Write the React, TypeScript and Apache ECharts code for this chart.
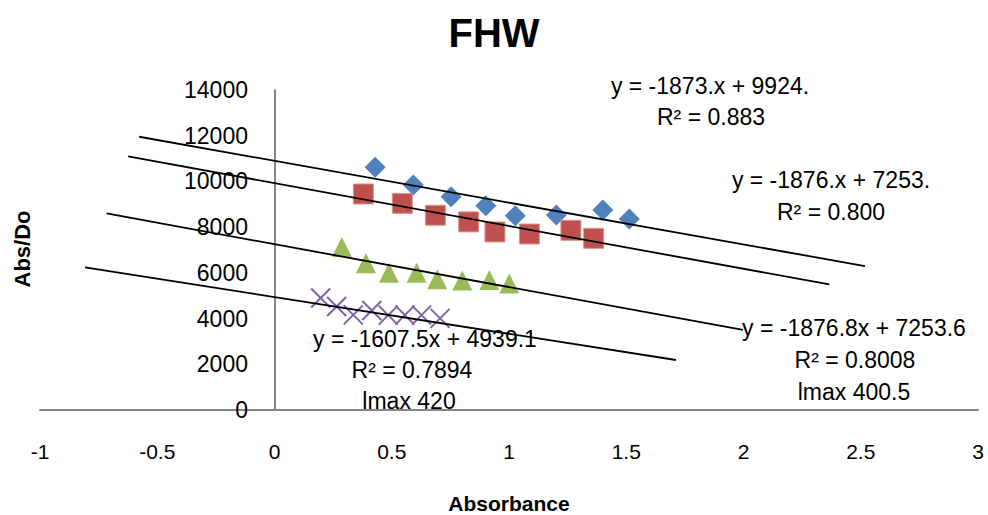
import React, { useEffect, useRef } from "react";
import * as echarts from "echarts";

const TITLE = "FHW";
const X_NAME = "Absorbance";
const Y_NAME = "Abs/Do";

const X_MIN = -1;
const X_MAX = 3;
const X_STEP = 0.5;
const Y_MIN = 0;
const Y_MAX = 14000;
const Y_STEP = 2000;

const BLUE_X = [0.429, 0.592, 0.753, 0.901, 1.027, 1.202, 1.4, 1.513];
const BLUE_Y = [10620, 9840, 9330, 8940, 8500, 8530, 8750, 8360];
const RED_X = [0.379, 0.545, 0.686, 0.828, 0.94, 1.087, 1.264, 1.361];
const RED_Y = [9450, 9040, 8520, 8230, 7790, 7700, 7860, 7510];
const GREEN_X = [0.287, 0.39, 0.488, 0.606, 0.694, 0.801, 0.916, 1.001];
const GREEN_Y = [7130, 6420, 6010, 6010, 5720, 5670, 5690, 5530];
const PURPLE_X = [0.197, 0.265, 0.336, 0.415, 0.485, 0.556, 0.627, 0.706];
const PURPLE_Y = [4900, 4530, 4160, 4350, 4150, 4150, 4150, 4010];

const TREND_SLOPE = [-1828, -1873, -1876.8, -1607.5];
const TREND_INTERCEPT = [10900, 9924, 7253.6, 4939.1];
const TREND_X_START = [-0.577, -0.624, -0.716, -0.808];
const TREND_X_END = [2.518, 2.366, 1.998, 1.712];

const LABEL_TEXTS = [
  "y = -1873.x + 9924.",
  "R² = 0.883",
  "y = -1876.x + 7253.",
  "R² = 0.800",
  "y = -1876.8x + 7253.6",
  "R² = 0.8008",
  "lmax 400.5",
  "y = -1607.5x + 4939.1",
  "R² = 0.7894",
  "lmax 420",
];
const LABEL_POS: [number, number][] = [
  [710, 86],
  [711, 117],
  [831, 180],
  [831, 212],
  [854, 328],
  [855, 360],
  [854, 392],
  [425, 339],
  [412, 370],
  [409, 401],
];

const FONT = "'Liberation Sans', Arial, sans-serif";

function zip(xs: number[], ys: number[]) {
  return xs.map((x, i) => [x, ys[i]]);
}

export default function App() {
  const ref = useRef<HTMLDivElement>(null);
  useEffect(() => {
    if (!ref.current) return;
    const chart = echarts.init(ref.current, undefined, { renderer: "svg" });

    const trendSeries = TREND_SLOPE.map((m, i) => ({
      type: "line",
      data: [
        [TREND_X_START[i], m * TREND_X_START[i] + TREND_INTERCEPT[i]],
        [TREND_X_END[i], m * TREND_X_END[i] + TREND_INTERCEPT[i]],
      ],
      symbol: "none",
      lineStyle: { color: "#000", width: 1.8 },
      z: 5,
      silent: true,
    }));

    const graphics: any[] = [
      {
        type: "text",
        x: 494,
        y: 33,
        style: {
          text: TITLE,
          font: `bold 40px ${FONT}`,
          fill: "#000",
          align: "center",
          verticalAlign: "middle",
        },
      },
      {
        type: "text",
        x: 509,
        y: 503,
        style: {
          text: X_NAME,
          font: `bold 21px ${FONT}`,
          fill: "#000",
          align: "center",
          verticalAlign: "middle",
        },
      },
      {
        type: "text",
        x: 22,
        y: 249,
        rotation: Math.PI / 2,
        style: {
          text: Y_NAME,
          font: `bold 22px ${FONT}`,
          fill: "#000",
          align: "center",
          verticalAlign: "middle",
        },
      },
      ...LABEL_TEXTS.map((t, i) => ({
        type: "text",
        x: LABEL_POS[i][0],
        y: LABEL_POS[i][1],
        z: 10,
        style: {
          text: t,
          font: `23px ${FONT}`,
          fill: "#000",
          align: "center",
          verticalAlign: "middle",
        },
      })),
    ];

    chart.setOption({
      animation: false,
      backgroundColor: "#fff",
      grid: {
        left: 40,
        right: 10,
        top: 90,
        bottom: 105,
        containLabel: false,
        outerBoundsMode: "none",
      },
      xAxis: {
        type: "value",
        min: X_MIN,
        max: X_MAX,
        interval: X_STEP,
        axisLine: { show: true, lineStyle: { color: "#868686", width: 2 } },
        axisTick: { show: false },
        splitLine: { show: false },
        axisLabel: {
          color: "#000",
          fontSize: 21,
          fontFamily: FONT,
          margin: 31,
          formatter: (v: number) => String(v),
        },
      },
      yAxis: {
        type: "value",
        min: Y_MIN,
        max: Y_MAX,
        interval: Y_STEP,
        axisLine: { show: true, onZero: true, lineStyle: { color: "#868686", width: 2 } },
        axisTick: { show: false },
        splitLine: { show: false },
        axisLabel: {
          color: "#000",
          fontSize: 23,
          fontFamily: FONT,
          margin: -208,
          formatter: (v: number) => String(v),
        },
      },
      series: [
        {
          type: "scatter",
          data: zip(BLUE_X, BLUE_Y),
          symbol: "diamond",
          symbolSize: 21,
          itemStyle: { color: "#4F81BD", opacity: 1 },
          z: 2,
        },
        {
          type: "scatter",
          data: zip(RED_X, RED_Y),
          symbol: "rect",
          symbolSize: 20,
          itemStyle: { color: "#C0504D", borderColor: "#D99694", borderWidth: 1, opacity: 1 },
          z: 2,
        },
        {
          type: "scatter",
          data: zip(GREEN_X, GREEN_Y),
          symbol: "triangle",
          symbolSize: 20,
          itemStyle: { color: "#9BBB59", opacity: 1 },
          z: 2,
        },
        {
          type: "scatter",
          data: zip(PURPLE_X, PURPLE_Y),
          symbol: "path://M0 0L20 20M20 0L0 20",
          symbolSize: 19,
          itemStyle: { color: "rgba(0,0,0,0)", borderColor: "#8064A2", borderWidth: 2, opacity: 1 },
          z: 2,
        },
        ...trendSeries,
      ],
      graphic: graphics,
    });

    return () => chart.dispose();
  }, []);

  return (
    <div
      ref={ref}
      style={{ position: "fixed", left: 0, top: 0, width: 988, height: 515 }}
    />
  );
}
